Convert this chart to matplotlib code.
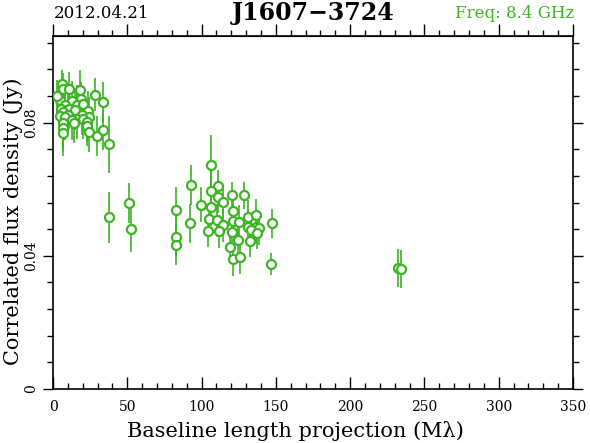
import matplotlib
matplotlib.use("Agg")
import matplotlib.pyplot as plt
from matplotlib.ticker import MultipleLocator

GREEN = "#3cb424"

# baseline length projection (Mlambda), correlated flux (Jy) and its error (Jy)
baseline = [
    5.9, 6.9, 18.2, 28.6, 33.4, 4.7, 12.6, 18.6, 8.1, 15.9, 20.4, 5.2,
    11.0, 14.8, 23.8, 6.9, 10.3, 19.3, 4.7, 8.1, 15.9, 24.4, 12.6, 20.4,
    22.7, 6.9, 14.1, 6.9, 22.7, 6.9, 24.4, 29.4, 33.4, 37.9, 2.7, 11.0,
    37.9, 51.3, 52.5,
    106.3, 92.7, 110.8, 106.3, 110.8, 114.6, 120.7, 128.5, 99.8, 106.3,
    83.1, 121.1, 105.0, 110.4, 120.9, 125.2, 131.0, 136.3, 92.0, 114.2,
    147.2, 131.2, 136.4, 138.4, 104.3, 111.9, 120.3, 133.2, 137.5, 83.1,
    132.8, 124.5, 83.1, 119.4, 120.9, 126.2, 146.5,
    232.5, 234.0,
]
flux = [
    0.0917, 0.0900, 0.0897, 0.0884, 0.0862, 0.0867, 0.0864, 0.0872, 0.0854,
    0.0852, 0.0857, 0.0842, 0.0842, 0.0837, 0.0834, 0.0832, 0.0824, 0.0824,
    0.0820, 0.0817, 0.0810, 0.0817, 0.0807, 0.0812, 0.0802, 0.0800, 0.0800,
    0.0784, 0.0790, 0.0770, 0.0772, 0.0759, 0.0777, 0.0735, 0.0879, 0.0901,
    0.0515, 0.0559, 0.0479,
    0.0672, 0.0614, 0.0609, 0.0596, 0.0578, 0.0562, 0.0582, 0.0582, 0.0554,
    0.0548, 0.0538, 0.0534, 0.0510, 0.0507, 0.0505, 0.0502, 0.0517, 0.0522,
    0.0497, 0.0491, 0.0497, 0.0487, 0.0485, 0.0482, 0.0475, 0.0473, 0.0472,
    0.0477, 0.0469, 0.0455, 0.0445, 0.0447, 0.0431, 0.0427, 0.0389, 0.0395,
    0.0374,
    0.0362, 0.0360,
]
flux_err = [
    0.004, 0.005, 0.006, 0.005, 0.006, 0.006, 0.006, 0.005, 0.006, 0.006,
    0.005, 0.006, 0.006, 0.006, 0.006, 0.006, 0.006, 0.006, 0.006, 0.007,
    0.006, 0.006, 0.006, 0.006, 0.006, 0.007, 0.006, 0.007, 0.006, 0.007,
    0.006, 0.006, 0.006, 0.0085, 0.005, 0.005,
    0.0078, 0.006, 0.0069,
    0.009, 0.006, 0.005, 0.006, 0.005, 0.005, 0.004, 0.004, 0.0053, 0.006,
    0.007, 0.005, 0.005, 0.005, 0.005, 0.005, 0.005, 0.005, 0.006, 0.005,
    0.0045, 0.005, 0.005, 0.005, 0.005, 0.005, 0.005, 0.005, 0.005, 0.006,
    0.005, 0.005, 0.006, 0.005, 0.005, 0.005, 0.0033,
    0.0057, 0.0057,
]

x_ticks = [0, 50, 100, 150, 200, 250, 300, 350]
y_ticks = [0, 0.04, 0.08]
y_tick_labels = ["0", "0.04", "0.08"]

plt.rcParams["font.family"] = ["DejaVu Serif"]

fig = plt.figure(figsize=(5.9, 4.43), dpi=100)
ax = fig.add_axes([53 / 590, 54 / 443, 520 / 590, 353 / 443])

ax.errorbar(baseline, flux, yerr=flux_err, fmt="o", color=GREEN, ecolor=GREEN,
            elinewidth=1.2, capsize=0, markersize=6.5, markerfacecolor="white",
            markeredgecolor=GREEN, markeredgewidth=1.6, zorder=3)

ax.set_xlim(0, 350)
ax.set_ylim(0, 0.106)

# ticks: bottom inward, others outward
ax.set_xticks(x_ticks)
ax.xaxis.set_minor_locator(MultipleLocator(10))
ax.tick_params(axis="x", which="both", direction="in", top=False, labelsize=10, pad=8)
ax.tick_params(axis="x", which="major", length=9, width=1)
ax.tick_params(axis="x", which="minor", length=4.5, width=1)

top = ax.secondary_xaxis("top")
top.set_xticks(x_ticks)
top.xaxis.set_minor_locator(MultipleLocator(10))
top.tick_params(which="both", direction="out", labeltop=False)
top.tick_params(which="major", length=9, width=1)
top.tick_params(which="minor", length=4.5, width=1)

ax.set_yticks(y_ticks)
ax.set_yticklabels(y_tick_labels, rotation=90, va="center")
ax.yaxis.set_minor_locator(MultipleLocator(0.008))
ax.tick_params(axis="y", which="both", direction="out", right=True, labelsize=10, pad=4)
ax.tick_params(axis="y", which="major", length=7, width=1)
ax.tick_params(axis="y", which="minor", length=4, width=1)

for spine in ax.spines.values():
    spine.set_linewidth(1.2)

fig.text(0.5, 1 - 431 / 443, "Baseline length projection (M\u03bb)", ha="center",
         va="center", fontsize=15)
fig.text(13 / 590, 0.5, "Correlated flux density (Jy)", ha="center",
         va="center", rotation=90, fontsize=15)

fig.text(102 / 590, 1 - 13 / 443, "2012.04.21", ha="center", va="center", fontsize=12)
fig.text(313 / 590, 1 - 13 / 443, "J1607\u22123724", ha="center", va="center",
         fontsize=17, fontweight="bold")
fig.text(574 / 590, 1 - 13 / 443, "Freq: 8.4 GHz", ha="right", va="center",
         fontsize=12, color=GREEN)

fig.savefig("out.png", dpi=100)
